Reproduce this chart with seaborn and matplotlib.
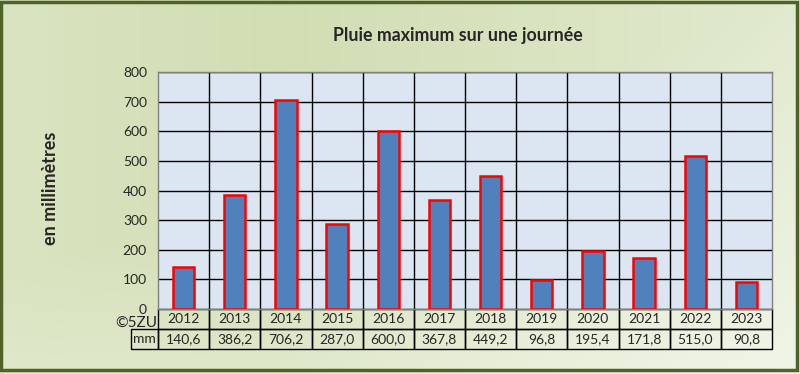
import numpy as np
import pandas as pd
import matplotlib
matplotlib.use("Agg")
import matplotlib.pyplot as plt
import seaborn as sns
from matplotlib.patches import Rectangle

years = ["2012", "2013", "2014", "2015", "2016", "2017", "2018", "2019", "2020", "2021", "2022", "2023"]
values = [140.6, 386.2, 706.2, 287.0, 600.0, 367.8, 449.2, 96.8, 195.4, 171.8, 515.0, 90.8]
value_labels = ["140,6", "386,2", "706,2", "287,0", "600,0", "367,8", "449,2", "96,8", "195,4", "171,8", "515,0", "90,8"]
yticks = [0, 100, 200, 300, 400, 500, 600, 700, 800]

sns.set_theme(style="white")
plt.rcParams['font.family'] = ['Lato', 'DejaVu Sans']

W, H = 800, 374
fig = plt.figure(figsize=(W / 100, H / 100), dpi=100)

# background gradient
bg = fig.add_axes([0, 0, 1, 1], zorder=-10)
yy, xx = np.mgrid[0:1:200j, 0:1:400j]
c_center = np.array([0.82, 0.87, 0.70])
c_edge = np.array([0.89, 0.92, 0.82])
c_light = np.array([0.96, 0.97, 0.93])
t = np.clip((xx * 0.6 + yy * 0.8) - 0.6, 0, 1)[..., None]
d = np.clip(np.abs(xx - 0.35) * 1.4, 0, 1)[..., None]
img = c_center * (1 - d) + c_edge * d
img = img * (1 - t) + c_light * t
bg.imshow(img, extent=[0, 1, 0, 1], aspect='auto', origin='upper')
bg.set_xlim(0, 1); bg.set_ylim(0, 1)
bg.axis('off')
bg.add_patch(Rectangle((1 / W, 4 / H), 1 - 4 / W, 1 - 6 / H, fill=False,
                       edgecolor='#4f6228', linewidth=2.5, transform=bg.transAxes))

left, right, top, bottom = 158, 772, 72, 309
ax = fig.add_axes([left / W, 1 - bottom / H, (right - left) / W, (bottom - top) / H])
ax.set_facecolor('#dce6f2')

df = pd.DataFrame({"year": years, "value": values})
sns.barplot(data=df, x="year", y="value", color='#4f81bd', edgecolor='#ff0000',
            linewidth=1.8, width=0.42, saturation=1, ax=ax, zorder=3)

ax.set_ylim(0, 800)
ax.set_xlim(-0.5, len(years) - 0.5)
ax.set_yticks(yticks)
ax.set_yticklabels([str(v) for v in yticks], fontsize=10)
ax.tick_params(axis='y', length=0, pad=8)
ax.set_xticks([])
ax.set_xlabel("")
ax.set_ylabel("")
for yv in yticks[1:]:
    ax.axhline(yv, color='black', linewidth=1, zorder=1)
for i in range(len(years) - 1):
    ax.axvline(i + 0.5, color='black', linewidth=1, zorder=1)
for s in ax.spines.values():
    s.set_color('#808080')
    s.set_linewidth(1)

# data table
row_h = 20 / (bottom - top)
tbl = ax.table(cellText=[value_labels], rowLabels=["mm"], colLabels=years,
               cellLoc='center', rowLoc='center',
               bbox=[0, -2 * row_h, 1, 2 * row_h])
tbl.auto_set_font_size(False)
tbl.set_fontsize(10)
for (r, c), cell in tbl.get_celld().items():
    cell.set_facecolor('none')
    cell.set_edgecolor('black')
    cell.set_linewidth(1)
    if c == -1:
        cell.set_width(26 / (right - left))

fig.text(136 / W, 1 - 323 / H, "©5ZU", fontsize=11, ha='center', va='center')
fig.text(458 / W, 1 - 35 / H, "Pluie maximum sur une journée", fontsize=12.8,
         fontweight='bold', ha='center', va='center')
fig.text(50 / W, 1 - 188 / H, "en millimètres", fontsize=13, fontweight='bold',
         rotation=90, ha='center', va='center')

fig.savefig("out.png", dpi=100)
